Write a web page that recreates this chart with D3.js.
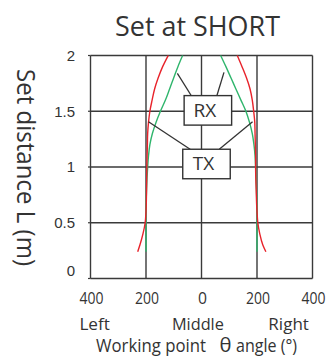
<!DOCTYPE html>
<html>
<head>
<meta charset="utf-8">
<script src="https://cdn.jsdelivr.net/npm/d3@7/dist/d3.min.js"></script>
<style>
  html, body { margin: 0; padding: 0; background: #fff; }
  svg { display: block; }
  text { font-family: "Open Sans", sans-serif; fill: #333; }
</style>
</head>
<body>
<svg id="chart" width="332" height="356"></svg>
<script>
// Working-range envelopes: angle θ (negative = left side) at set distance L (m)
const distances = [2.0, 1.9, 1.8, 1.7, 1.6, 1.5, 1.4, 1.3, 1.2, 1.1, 1.0, 0.8, 0.6, 0.5, 0.4, 0.3, 0.24];

const redLeft   = [-120, -140, -156, -169, -178, -186, -191, -194, -195, -196, -197, -198, -200, -203, -211, -222, -230];
const redRight  = [ 129,  146,  162,  175,  183,  188,  192,  193,  194,  195,  195,  197,  200,  203,  210,  221,  232];
const greenLeft = [ -68,  -85, -100, -115, -130, -148, -164, -177, -186, -191, -194, -198, -200, -200, -200, -200, -200];
const greenRight= [  69,   88,  106,  124,  142,  160,  173,  183,  189,  193,  195,  198,  200,  200,  200,  200,  200];

const xTicks = [-400, -200, 0, 200, 400];
const yTicks = [0, 0.5, 1, 1.5, 2];
const sideNames = ["Left", "Middle", "Right"];

// Labelled boxes (RX/TX) with leader lines, in data units [angle, L]
const boxLabels = ["RX", "TX"];
const boxCenters = [[23, 1.508], [18, 1.027]];
const leaders = [
  { box: 0, from: [-87, 1.84], to: [-36, 1.637] },
  { box: 0, from: [81, 1.849], to: [55, 1.637] },
  { box: 1, from: [-191, 1.406], to: [-41, 1.159] },
  { box: 1, from: [184, 1.406], to: [64, 1.159] }
];

const svg = d3.select("#chart");
const plot = { left: 90.5, right: 312.5, top: 55.5, bottom: 278.5 };

const x = d3.scaleLinear().domain([-400, 400]).range([plot.left, plot.right]);
const y = d3.scaleLinear().domain([0, 2]).range([plot.bottom, plot.top]);

const gridColor = "#3a3a3a";

// Grid
svg.append("g").selectAll("line.v").data(xTicks).join("line")
  .attr("x1", d => x(d)).attr("x2", d => x(d))
  .attr("y1", plot.top).attr("y2", plot.bottom)
  .attr("stroke", gridColor).attr("stroke-width", 1.4);
svg.append("g").selectAll("line.h").data(yTicks).join("line")
  .attr("x1", plot.left).attr("x2", plot.right)
  .attr("y1", d => y(d)).attr("y2", d => y(d))
  .attr("stroke", gridColor).attr("stroke-width", 1.4);

// Small outward ticks on the left edge
svg.append("g").selectAll("line").data(yTicks).join("line")
  .attr("x1", plot.left - 2.5).attr("x2", plot.left)
  .attr("y1", d => y(d)).attr("y2", d => y(d))
  .attr("stroke", gridColor).attr("stroke-width", 1.2);

// Y tick labels
svg.append("g").selectAll("text").data(yTicks).join("text")
  .attr("x", 75)
  .attr("y", d => y(d) + (d === 0 ? -8 : 0))
  .attr("dy", "0.35em")
  .attr("text-anchor", "end")
  .style("font-family", "'Liberation Sans', Arial, sans-serif")
  .style("font-size", "15px")
  .text(d => d);

// X tick labels (absolute angle)
svg.append("g").selectAll("text").data(xTicks).join("text")
  .attr("x", d => x(d) + 1)
  .attr("y", 304)
  .attr("text-anchor", "middle")
  .style("font-size", "17px")
  .attr("textLength", d => d === 0 ? 9 : 24)
  .attr("lengthAdjust", "spacingAndGlyphs")
  .text(d => Math.abs(d));

// Side names under the tick labels
const sidePos = [-385, -13, 314];
const sideLen = [30.5, 52, 40.5];
svg.append("g").selectAll("text").data(sideNames).join("text")
  .attr("x", (d, i) => x(sidePos[i]))
  .attr("y", 329.5)
  .attr("text-anchor", "middle")
  .style("font-size", "16.5px")
  .attr("textLength", (d, i) => sideLen[i])
  .attr("lengthAdjust", "spacingAndGlyphs")
  .text(d => d);

// Axis title, in three pieces so the θ symbol can sit a little apart and larger
const axisTitle = [
  { text: "Working point", x: 96, len: 110, size: 18 },
  { text: "θ", x: 219.5, len: 12, size: 20 },
  { text: "angle (°)", x: 236, len: 61, size: 18 }
];
svg.append("g").selectAll("text").data(axisTitle).join("text")
  .attr("x", d => d.x).attr("y", 351.5)
  .style("font-size", d => d.size + "px")
  .attr("textLength", d => d.len)
  .attr("lengthAdjust", "spacingAndGlyphs")
  .text(d => d.text);

// Y axis title
svg.append("text")
  .attr("transform", "translate(16.5," + ((plot.top + plot.bottom) / 2 + 0.5) + ") rotate(90)")
  .attr("text-anchor", "middle")
  .style("font-size", "26px")
  .attr("textLength", 197)
  .attr("lengthAdjust", "spacingAndGlyphs")
  .text("Set distance L (m)");

// Chart title
svg.append("text")
  .attr("x", 197.5).attr("y", 36)
  .attr("text-anchor", "middle")
  .style("font-size", "27px")
  .attr("textLength", 165)
  .attr("lengthAdjust", "spacingAndGlyphs")
  .text("Set at SHORT");

// Envelope curves
const line = d3.line()
  .x(d => x(d[0]))
  .y(d => y(d[1]))
  .curve(d3.curveMonotoneY);

const series = [
  { values: greenLeft, color: "#2fb56c" },
  { values: greenRight, color: "#2fb56c" },
  { values: redLeft, color: "#e8232b" },
  { values: redRight, color: "#e8232b" }
];
svg.append("g").selectAll("path").data(series).join("path")
  .attr("d", s => line(s.values.map((v, i) => [v, distances[i]])))
  .attr("fill", "none")
  .attr("stroke", s => s.color)
  .attr("stroke-width", 1.4);

// Leader lines
svg.append("g").selectAll("line").data(leaders).join("line")
  .attr("x1", d => x(d.from[0])).attr("y1", d => y(d.from[1]))
  .attr("x2", d => x(d.to[0])).attr("y2", d => y(d.to[1]))
  .attr("stroke", "#333").attr("stroke-width", 1.3);

// Label boxes
const boxW = 47.5, boxH = 29.5;
const boxes = svg.append("g").selectAll("g").data(boxLabels).join("g")
  .attr("transform", (d, i) => "translate(" + x(boxCenters[i][0]) + "," + y(boxCenters[i][1]) + ")");
boxes.append("rect")
  .attr("x", -boxW / 2).attr("y", -boxH / 2)
  .attr("width", boxW).attr("height", boxH)
  .attr("fill", "#fff").attr("stroke", "#333").attr("stroke-width", 1.4);
boxes.append("text")
  .attr("x", -3).attr("y", 6.5)
  .attr("text-anchor", "middle")
  .style("font-size", "19px")
  .text(d => d);
</script>
</body>
</html>
